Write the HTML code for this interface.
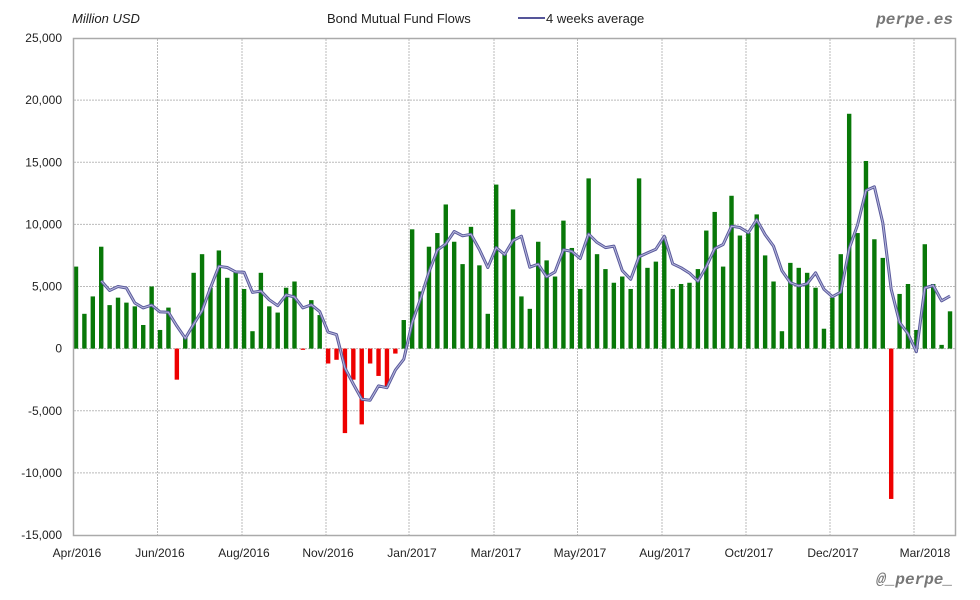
<!DOCTYPE html>
<html><head><meta charset="utf-8"><style>
body{margin:0;background:#fff;}
svg{display:block;font-family:"Liberation Sans",sans-serif;}
</style></head><body>
<svg id="s" width="980" height="600" xmlns="http://www.w3.org/2000/svg">
<rect width="980" height="600" fill="#fff"/>
<g id="grid"></g>
<g id="bars"></g>
<g id="line"></g>
<rect x="73.5" y="38.5" width="882" height="497" fill="none" stroke="#aaa" stroke-width="1.5"/>
<g font-size="12" fill="#222" text-anchor="end" id="ylab"></g>
<g font-size="12" fill="#222" text-anchor="middle" id="xlab"></g>
<text x="72" y="23" font-size="13" font-style="italic" fill="#222">Million USD</text>
<text x="327" y="23" font-size="13" fill="#222">Bond Mutual Fund Flows</text>
<line x1="518" y1="18" x2="545" y2="18" stroke="#555599" stroke-width="2"/>
<text x="546" y="23" font-size="13" fill="#222">4 weeks average</text>
<text x="953" y="24" font-size="16" font-weight="bold" font-style="italic" fill="#777" text-anchor="end" font-family="Liberation Mono,monospace">perpe.es</text>
<text x="953" y="584" font-size="16" font-weight="bold" font-style="italic" fill="#777" text-anchor="end" font-family="Liberation Mono,monospace">@_perpe_</text>
</svg>
<script>
var v=[6.6,2.8,4.2,8.2,3.5,4.1,3.7,3.4,1.9,5.0,1.5,3.3,-2.5,1.0,6.1,7.6,4.9,7.9,5.7,6.2,4.8,1.4,6.1,3.4,2.9,4.9,5.4,-0.1,3.9,2.7,-1.2,-0.9,-6.8,-2.5,-6.1,-1.2,-2.2,-3.1,-0.4,2.3,9.6,4.6,8.2,9.3,11.6,8.6,6.8,9.8,6.7,2.8,13.2,7.6,11.2,4.2,3.2,8.6,7.1,5.8,10.3,8.1,4.8,13.7,7.6,6.4,5.3,5.8,4.8,13.7,6.5,7.0,9.0,4.8,5.2,5.3,6.4,9.5,11.0,6.6,12.3,9.1,9.3,10.8,7.5,5.4,1.4,6.9,6.5,6.1,4.9,1.6,4.1,7.6,18.9,9.3,15.1,8.8,7.3,-12.1,4.4,5.2,1.5,8.4,5.2,0.3,3.0];
var NS="http://www.w3.org/2000/svg";
function el(p,t,a,txt){var e=document.createElementNS(NS,t);for(var k in a)e.setAttribute(k,a[k]);if(txt)e.textContent=txt;document.getElementById(p).appendChild(e);}
function Y(x){return 348.6-x*12.425;}
for(var i=0;i<=8;i++){var y=38+i*62.125;if(i>0&&i<8)el('grid','line',{x1:74,x2:955,y1:y,y2:y,stroke:'#bbb','stroke-dasharray':'2,1'});
var val=25000-i*5000;el('ylab','text',{x:62,y:y+4},(val<0?'-':'')+Math.abs(val).toLocaleString('en-US'));}
var gx=[157.5,242,326,409,494,577.5,662,746,830,914];
gx.forEach(function(x){el('grid','line',{x1:x,x2:x,y1:39,y2:535,stroke:'#bbb','stroke-dasharray':'2,1'});});
var lx=[77,160,244,328,412,496,580,665,749,833,925],ln=["Apr/2016","Jun/2016","Aug/2016","Nov/2016","Jan/2017","Mar/2017","May/2017","Aug/2017","Oct/2017","Dec/2017","Mar/2018"];
lx.forEach(function(x,i){el('xlab','text',{x:x,y:557},ln[i]);});
var pts=[];
v.forEach(function(d,i){var x=76+i*8.404;var y0=Y(0),y1=Y(d);
el('bars','rect',{x:x-2.2,y:Math.min(y0,y1),width:4.4,height:Math.max(Math.abs(y1-y0),0.8),fill:d<0?'#ee0000':'#087808'});
if(i>=3){var m=(v[i]+v[i-1]+v[i-2]+v[i-3])/4;pts.push(x.toFixed(1)+','+Y(m).toFixed(1));}});
el('line','polyline',{points:pts.join(' '),fill:'none',stroke:'#5a5a9c','stroke-width':3,'stroke-linejoin':'round'});
el('line','polyline',{points:pts.join(' '),fill:'none',stroke:'#b8b8dc','stroke-width':1,'stroke-linejoin':'round'});
</script>
</body></html>
